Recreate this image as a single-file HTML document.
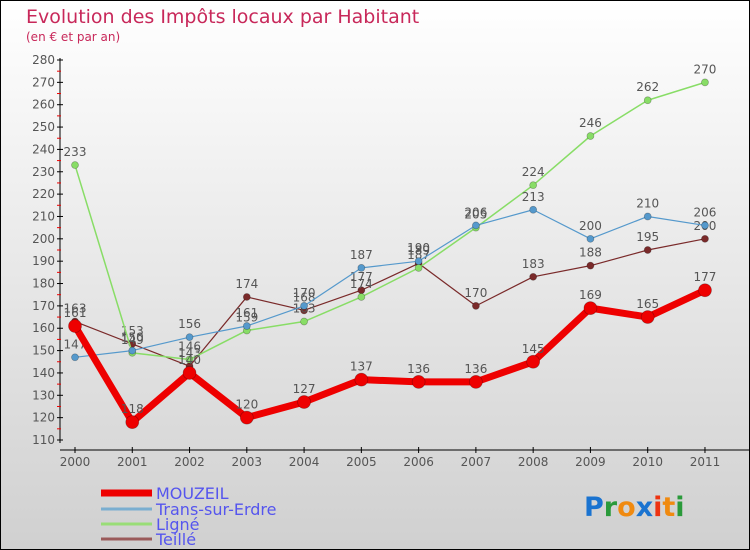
<!DOCTYPE html>
<html><head><meta charset="utf-8"><style>
body{margin:0}
#c{width:750px;height:550px;position:relative;box-sizing:border-box;border:1px solid #000;background:linear-gradient(#ffffff,#d0d0d0);font-family:"DejaVu Sans","Liberation Sans",sans-serif;overflow:hidden}
</style></head><body>
<div id="c">
<svg id="s" width="748" height="548" style="position:absolute;left:0;top:0"></svg>
</div>
<script>
const years=["2000","2001","2002","2003","2004","2005","2006","2007","2008","2009","2010","2011"];
const mouzeil=[161,118,140,120,127,137,136,136,145,169,165,177];
const trans=[147,150,156,161,170,187,190,206,213,200,210,206];
const ligne=[233,149,146,159,163,174,187,205,224,246,262,270];
const teille=[163,153,143,174,168,177,189,170,183,188,195,200];
const yTicks=[110,120,130,140,150,160,170,180,190,200,210,220,230,240,250,260,270,280];
const NS="http://www.w3.org/2000/svg";
const s=document.getElementById('s');
const X=i=>74+i*57.27;
const Y=v=>439-(v-110)*(380/170);
function el(t,a,p){const e=document.createElementNS(NS,t);for(const k in a)e.setAttribute(k,a[k]);(p||s).appendChild(e);return e;}
function txt(x,y,str,a){const e=el('text',Object.assign({x:x,y:y},a));e.textContent=str;return e;}
let t=txt(25,22,"Evolution des Impôts locaux par Habitant",{fill:"#c8285a","font-size":"19"});

t=txt(25,40,"(en € et par an)",{fill:"#c8285a","font-size":"12"});

let ax=el('line',{x1:59,y1:57,x2:59,y2:442,stroke:"#000"});

yTicks.forEach((v,i)=>{el('line',{x1:56,x2:62,y1:Y(v),y2:Y(v),stroke:"#000"});
 t=txt(54,Y(v)+4,String(v),{fill:"#555","font-size":"12","text-anchor":"end"});
 
 if(i<yTicks.length-1)el('line',{x1:56,x2:60,y1:Y(v+5),y2:Y(v+5),stroke:"#e00"});});
ax=el('line',{x1:59,y1:449,x2:748,y2:449,stroke:"#000"});

years.forEach((y,i)=>{el('line',{x1:X(i),x2:X(i),y1:446,y2:452,stroke:"#000"});
 t=txt(X(i),465,y,{fill:"#555","font-size":"12","text-anchor":"middle"});
 });
function series(d,col,w,r,name,labels){
 const g=el('g',{});
 el('polyline',{points:d.map((v,i)=>X(i)+','+Y(v)).join(' '),fill:"none",stroke:col,"stroke-width":w,"stroke-linejoin":"round"},g);
 d.forEach((v,i)=>{const c=el('circle',{cx:X(i),cy:Y(v),r:r,fill:col,stroke:"rgba(0,0,0,0.3)","stroke-width":0.7},g);
  
  const l=txt(X(i),Y(v)-9,String(v),{fill:"#555","font-size":"12","text-anchor":"middle"},);
  });
}
series(teille,"#7a2a2a",1.2,3.5,"teille");
series(ligne,"#88dd66",1.5,3.5,"ligne");
series(trans,"#5599cc",1.2,3.5,"trans-sur-erdre");
series(mouzeil,"#ee0000",7,6.5,"mouzeil");
const leg=[["MOUZEIL","#ee0000",7,492],["Trans-sur-Erdre","#7aaed0",3,508],["Ligné","#99dd77",3,523],["Teillé","#9a5a5a",3,538]];
leg.forEach(l=>{const g=el('g',{});
 el('line',{x1:100,x2:151,y1:l[3],y2:l[3],stroke:l[1],"stroke-width":l[2]},g);
 txt(155,l[3]+6,l[0],{fill:"#5555ee","font-size":"16"},g);});
const p=[["P","#1a73d0"],["r","#2a9a3a"],["o","#f08a10"],["x","#1a73d0"],["i","#ee3311"],["t","#f08a10"],["i","#2a9a3a"]];
const lg=el('text',{x:583,y:515,"font-size":"27","font-weight":"bold"});

p.forEach(c=>{const ts=el('tspan',{fill:c[1]},lg);ts.textContent=c[0];});
</script>
</body></html>
